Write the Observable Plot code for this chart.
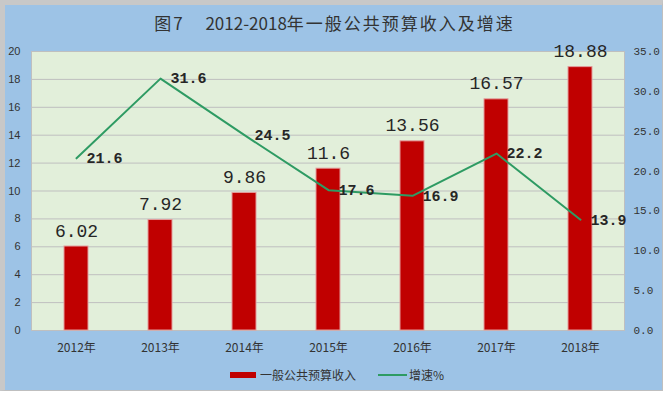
<!DOCTYPE html>
<html><head><meta charset="utf-8">
<script src="https://cdn.jsdelivr.net/npm/d3@7"></script>
<script src="https://cdn.jsdelivr.net/npm/@observablehq/plot@0.6"></script>
<style>
body{margin:0;background:#fff;width:669px;height:396px;overflow:hidden;position:relative;font-family:"Noto Sans CJK SC",sans-serif;}
#frame{position:absolute;left:0;top:0;width:657px;height:385px;background:#9DC3E6;border-left:5px solid #c8c8c8;border-top:5px solid #c8c8c8;border-right:1px solid #bfbfbf;border-bottom:1px solid #bfbfbf;}
#title{position:absolute;left:0;top:14px;width:669px;text-align:center;font-size:17px;line-height:17px;color:#333;white-space:pre;}
#title .cjk{letter-spacing:2px;}
#chart{position:absolute;left:0;top:0;}
#legend{position:absolute;left:230px;top:369px;height:12px;display:flex;align-items:center;font-size:12px;line-height:12px;color:#333;white-space:nowrap;}
.sw-bar{width:26px;height:6px;background:#C00000;margin-right:4px;}
.sw-line{width:29px;height:2px;background:#2E9B63;margin-left:22px;margin-right:2px;}
</style>
</head><body>
<div id="frame"></div>
<div id="title"><span class="cjk">图</span>7      2012-2018<span class="cjk">年一般公共预算收入及增速</span></div>
<div id="chart"></div>
<div id="legend"><div class="sw-bar"></div><span>一般公共预算收入</span><div class="sw-line"></div><span>增速%</span></div>
<script>
const years = ["2012年","2013年","2014年","2015年","2016年","2017年","2018年"];
const revenue = [6.02, 7.92, 9.86, 11.6, 13.56, 16.57, 18.88];
const growth = [21.6, 31.6, 24.5, 17.6, 16.9, 22.2, 13.9];
const leftTicks = [0, 2, 4, 6, 8, 10, 12, 14, 16, 18, 20];
const rightTicks = [0, 5, 10, 15, 20, 25, 30, 35];

const k = 20 / 35;
const rows = years.map((year, i) => ({year, revenue: revenue[i], growth: growth[i], g: growth[i] * k}));

const chart = Plot.plot({
  width: 669,
  height: 396,
  marginLeft: 31,
  marginRight: 45,
  marginTop: 51,
  marginBottom: 66,
  style: {background: "transparent", fontFamily: "'Noto Sans CJK SC', sans-serif", fontSize: "11px", color: "#333"},
  x: {domain: years, padding: 0, label: null},
  y: {domain: [0, 20], label: null},
  marks: [
    Plot.frame({fill: "#E2EFDA", stroke: null}),
    Plot.gridY(leftTicks.filter(t => t > 0 && t < 20), {stroke: "#BFBFBF", strokeOpacity: 1}),
    Plot.frame({stroke: "#BFBFBF"}),
    Plot.barY(rows, {x: "year", y: "revenue", fill: "#C00000", stroke: "#E39B9B", strokeWidth: 1, insetLeft: 30, insetRight: 30}),
    Plot.line(rows, {x: "year", y: "g", stroke: "#2E9B63", strokeWidth: 2}),
    Plot.text(rows, {x: "year", y: "revenue", text: d => String(d.revenue), dy: -10, lineAnchor: "bottom", fontFamily: "'Liberation Mono', monospace", fontSize: 18, fill: "#262626"}),
    Plot.text(rows, {x: "year", y: "g", text: d => d.growth.toFixed(1), dx: 10, textAnchor: "start", fontFamily: "'Liberation Mono', monospace", fontSize: 15, fontWeight: "bold", fill: "#262626"}),
    Plot.axisX({tickSize: 0, tickPadding: 13, fontSize: 12, label: null}),
    Plot.axisY(leftTicks, {anchor: "left", tickSize: 0, tickPadding: 11, label: null, fontFamily: "'Liberation Sans', sans-serif", fontSize: 11}),
    Plot.axisY(rightTicks.map(t => t * k), {anchor: "right", tickSize: 0, tickPadding: 9, label: null, tickFormat: d => (d / k).toFixed(1), fontFamily: "'Liberation Mono', monospace", fontSize: 11})
  ]
});
document.getElementById("chart").append(chart);
</script>
</body></html>
